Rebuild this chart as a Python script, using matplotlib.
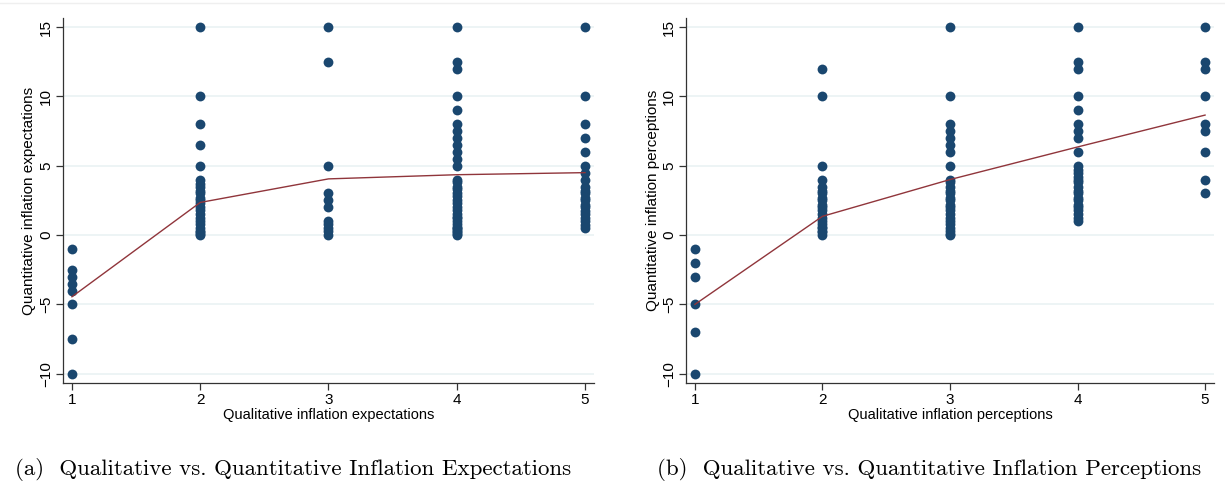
import matplotlib.pyplot as plt
from matplotlib.lines import Line2D

plt.rcParams["font.family"] = ["Liberation Sans", "DejaVu Sans"]

# (a) expectations: distinct answers per qualitative category
exp_cats = [1, 2, 3, 4, 5]
exp_vals = {
    1: [-1, -2.5, -3, -3.5, -4, -5, -7.5, -10],
    2: [15, 10, 8, 6.5, 5, 4, 3.7, 3.5, 3.2, 3, 2.7, 2.5, 2.3, 2, 1.8, 1.5,
        1.2, 1, 0.8, 0.5, 0.3, 0.2, 0.1, 0],
    3: [15, 12.5, 5, 3, 2.5, 2, 1, 0.8, 0.5, 0.3, 0],
    4: [15, 12.5, 12, 10, 9, 8, 7.5, 7, 6.5, 6, 5.5, 5, 4, 3.8, 3.5, 3.3, 3,
        2.8, 2.5, 2.3, 2, 1.8, 1.5, 1.3, 1.2, 1, 0.8, 0.6, 0.5, 0.4, 0.3,
        0.2, 0.1, 0],
    5: [15, 10, 8, 7, 6, 5, 4.5, 4, 3.5, 3.2, 3, 2.7, 2.5, 2.2, 2, 1.7, 1.5,
        1.2, 1, 0.7, 0.5],
}
exp_mean = [-4.45, 2.35, 4.05, 4.35, 4.5]

# (b) perceptions
per_cats = [1, 2, 3, 4, 5]
per_vals = {
    1: [-1, -2, -3, -5, -7, -10],
    2: [12, 10, 5, 4, 3.5, 3.2, 3, 2.7, 2.5, 2.2, 2, 1.8, 1.5, 1.2, 1, 0.8,
        0.6, 0.5, 0.3, 0.2, 0],
    3: [15, 10, 8, 7.5, 7, 6.5, 6, 5, 4, 3.8, 3.5, 3.2, 3, 2.7, 2.5, 2.2, 2,
        1.8, 1.5, 1.2, 1, 0.8, 0.5, 0.3, 0.1, 0],
    4: [15, 12.5, 12, 10, 9, 8, 7.5, 7, 6, 5, 4.7, 4.5, 4.2, 4, 3.8, 3.5, 3.2,
        3, 2.7, 2.5, 2.2, 2, 1.8, 1.5, 1.2, 1],
    5: [15, 12.5, 12, 10, 8, 7.5, 6, 4, 3],
}
per_mean = [-5.0, 1.35, 4.0, 6.35, 8.65]

y_ticks = [-10, -5, 0, 5, 10, 15]

DOT = "#1a476f"
LINE = "#90353b"
GRID = "#eaf2f3"
AXC = "#333333"

fig = plt.figure(figsize=(12.25, 4.92), dpi=100)


def panel(rect, cats, vals, means, xlabel, ylabel, caption, cap_x):
    ax = fig.add_axes(rect)
    for c in cats:
        ax.scatter([c] * len(vals[c]), vals[c], s=50, color=DOT, zorder=3,
                   linewidths=0)
    ax.plot(cats, means, color=LINE, lw=1.0, zorder=4)
    ax.set_xlim(0.93, 5.07)
    ax.set_ylim(-10.67, 15.65)
    ax.set_xticks(cats)
    ax.set_yticks(y_ticks)
    ax.set_yticklabels([str(t).replace("-", "\u2212") for t in y_ticks],
                       rotation=90, va="center")
    for t in y_ticks:
        ax.axhline(t, color=GRID, lw=1.2, zorder=1)
    ax.spines["top"].set_visible(False)
    ax.spines["right"].set_visible(False)
    for s in ("left", "bottom"):
        ax.spines[s].set_linewidth(0.9)
        ax.spines[s].set_color(AXC)
    ax.tick_params(direction="out", length=5, width=0.9, color=AXC,
                   labelsize=11, pad=2)
    ax.set_xlabel(xlabel, fontsize=10.5, labelpad=1)
    ax.set_ylabel(ylabel, fontsize=11, labelpad=2)
    fig.text(cap_x, 0.045, caption, family="cmr10", fontsize=16.5,
             ha="left", va="center")
    return ax


panel([0.0514, 0.2215, 0.4335, 0.7419], exp_cats, exp_vals, exp_mean,
      "Qualitative inflation expectations",
      "Quantitative inflation expectations",
      "(a)  Qualitative vs. Quantitative Inflation Expectations", 0.012)
panel([0.560, 0.2215, 0.431, 0.7419], per_cats, per_vals, per_mean,
      "Qualitative inflation perceptions",
      "Quantitative inflation perceptions",
      "(b)  Qualitative vs. Quantitative Inflation Perceptions", 0.536)

fig.add_artist(Line2D([0, 1], [0.994, 0.994], color="#efefef", lw=1))

fig.savefig("out.png", dpi=100)
